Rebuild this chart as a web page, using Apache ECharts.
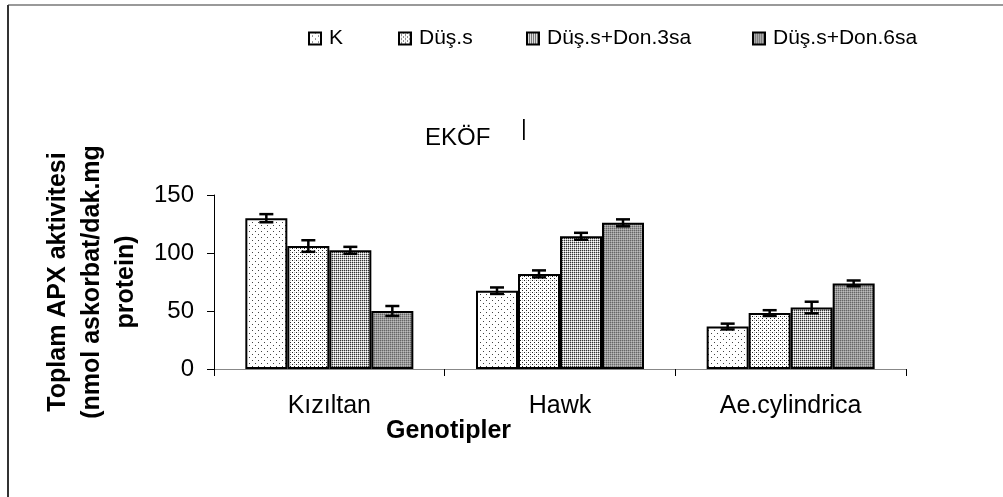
<!DOCTYPE html>
<html>
<head>
<meta charset="utf-8">
<script src="https://cdn.jsdelivr.net/npm/echarts@6/dist/echarts.min.js"></script>
<style>
  html, body { margin: 0; padding: 0; background: #fff; }
  #chart { width: 1003px; height: 497px; }
</style>
</head>
<body>
<div id="chart"></div>
<script>
const categories = ['Kızıltan', 'Hawk', 'Ae.cylindrica'];
const seriesNames = ['K', 'Düş.s', 'Düş.s+Don.3sa', 'Düş.s+Don.6sa'];
const valK = [130, 67.5, 36.6];
const valDus = [106, 82, 48.2];
const valDon3 = [102.3, 114.4, 53];
const valDon6 = [50, 126, 73.8];
const errK = [3.5, 2.8, 2.5];
const errDus = [5, 3, 2.5];
const errDon3 = [3, 3, 5];
const errDon6 = [4.3, 3, 2.5];
const yTicks = [0, 50, 100, 150];

const values = [valK, valDus, valDon3, valDon6];
const errors = [errK, errDus, errDon3, errDon6];

// small dithering tiles, like the old excel fills
function makeTile(size, cells, bg) {
  const c = document.createElement('canvas');
  c.width = size;
  c.height = size;
  const ctx = c.getContext('2d');
  ctx.fillStyle = bg;
  ctx.fillRect(0, 0, size, size);
  cells.forEach(function (p) {
    ctx.fillStyle = p[2];
    ctx.fillRect(p[0], p[1], 1, 1);
  });
  return { image: c, repeat: 'repeat' };
}

const fills = [
  makeTile(6, [[0, 0, '#444'], [3, 3, '#444']], '#fff'),
  makeTile(4, [[0, 0, '#222'], [2, 2, '#222'], [2, 0, '#bbb']], '#fff'),
  makeTile(2, [[0, 0, '#333'], [1, 1, '#fff']], '#bbb'),
  makeTile(2, [[0, 0, '#666'], [1, 1, '#bbb']], '#999')
];

const barW = 42;
const font = '"Liberation Sans", Arial, sans-serif';

const chart = echarts.init(document.getElementById('chart'));

const series = [];
seriesNames.forEach(function (name, i) {
  series.push({
    name: name,
    type: 'bar',
    barWidth: barW,
    barGap: '0%',
    data: values[i],
    itemStyle: { color: fills[i], borderColor: '#000', borderWidth: 2 },
    z: 2
  });
});
seriesNames.forEach(function (name, i) {
  series.push({
    type: 'custom',
    name: name + ' err',
    z: 5,
    data: values[i].map(function (v, k) { return [k, v - errors[i][k], v + errors[i][k]]; }),
    renderItem: function (params, api) {
      const lo = api.coord([api.value(0), api.value(1)]);
      const hi = api.coord([api.value(0), api.value(2)]);
      const x = lo[0] + (i - 1.5) * barW;
      const half = 7;
      const st = { stroke: '#000', lineWidth: 2.5 };
      return {
        type: 'group',
        children: [
          { type: 'line', shape: { x1: x, y1: lo[1], x2: x, y2: hi[1] }, style: st },
          { type: 'line', shape: { x1: x - half, y1: lo[1], x2: x + half, y2: lo[1] }, style: st },
          { type: 'line', shape: { x1: x - half, y1: hi[1], x2: x + half, y2: hi[1] }, style: st }
        ]
      };
    }
  });
});

const legendLeft = [303, 393, 521, 747];
const legends = seriesNames.map(function (name, i) {
  return {
    data: [name],
    left: legendLeft[i],
    top: 23,
    itemWidth: 12,
    itemHeight: 12,
    icon: 'rect',
    selectedMode: false,
    textStyle: { fontFamily: font, fontSize: 21, color: '#000', padding: [0, 0, 0, 3] }
  };
});

chart.setOption({
  animation: false,
  backgroundColor: '#fff',
  legend: legends,
  grid: { left: 214, right: 97, top: 195, bottom: 128 },
  xAxis: {
    type: 'category',
    data: categories,
    axisLine: { lineStyle: { color: '#888', width: 1 } },
    axisTick: { show: true, alignWithLabel: false, length: 7, lineStyle: { color: '#000' } },
    axisLabel: { fontFamily: font, fontSize: 25, color: '#000', margin: 25 }
  },
  yAxis: {
    type: 'value',
    min: 0,
    max: 150,
    interval: 50,
    splitLine: { show: false },
    axisLine: { show: true, lineStyle: { color: '#000', width: 1 } },
    axisTick: { show: true, length: 7, lineStyle: { color: '#000' } },
    axisLabel: {
      fontFamily: font, fontSize: 24, color: '#000', margin: 20,
      formatter: function (v) { return yTicks.indexOf(v) >= 0 ? String(v) : ''; }
    },
    name: 'Toplam APX aktivitesi\n(nmol askorbat/dak.mg\nprotein)',
    nameLocation: 'middle',
    nameRotate: 90,
    nameGap: 64,
    nameTextStyle: { fontFamily: font, fontSize: 25, fontWeight: 'bold', color: '#000', lineHeight: 34, align: 'center' }
  },
  graphic: [
    { type: 'line', shape: { x1: 8, y1: 5, x2: 1003, y2: 5 }, style: { stroke: '#999', lineWidth: 2 } },
    { type: 'line', shape: { x1: 8, y1: 5, x2: 8, y2: 497 }, style: { stroke: '#333', lineWidth: 2 } },
    {
      type: 'text', left: 425, top: 126,
      style: { text: 'EKÖF', fontFamily: font, fontSize: 24, fill: '#000' }
    },
    {
      type: 'text', left: 521, top: 118,
      style: { text: '|', fontFamily: font, fontSize: 22, fill: '#000' }
    },
    {
      type: 'text', left: 386, top: 419,
      style: { text: 'Genotipler', fontFamily: font, fontSize: 25, fontWeight: 'bold', fill: '#000' }
    }
  ],
  series: series
});
</script>
</body>
</html>
